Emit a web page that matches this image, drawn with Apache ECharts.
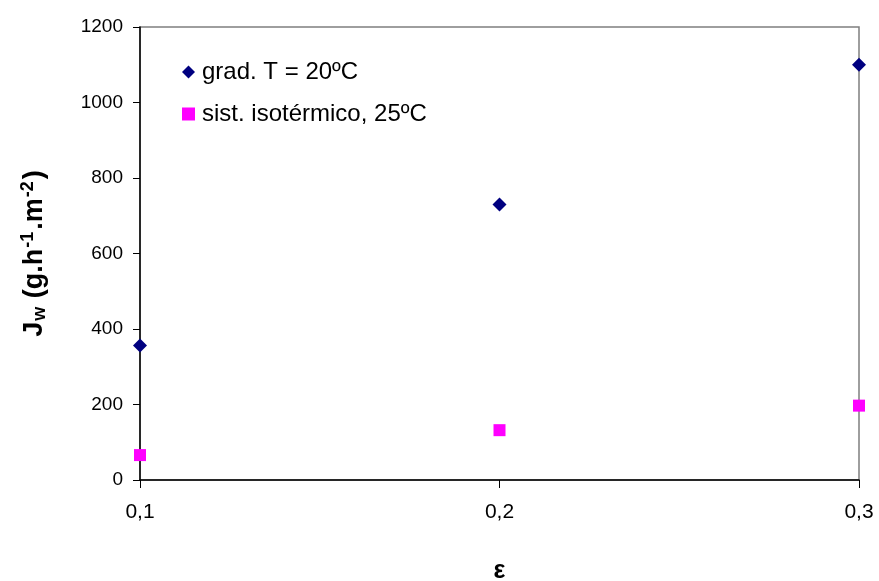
<!DOCTYPE html>
<html>
<head>
<meta charset="utf-8">
<script src="https://cdn.jsdelivr.net/npm/echarts@6/dist/echarts.min.js"></script>
<style>
  html, body { margin: 0; padding: 0; background: #fff; }
  #chart { width: 879px; height: 581px; }
</style>
</head>
<body>
<div id="chart"></div>
<script>
// Porosity values (ε) and water flux J_w for the two operating conditions
const epsilon = [0.1, 0.2, 0.3];
const gradT20 = [356, 730, 1100];
const isotermico25 = [66, 132, 197];
const yTicks = { min: 0, max: 1200, interval: 200 };
const seriesNames = ['grad. T = 20ºC', 'sist. isotérmico, 25ºC'];

const FONT = '"Liberation Sans", Arial, sans-serif';

const pairs = (xs, ys) => xs.map((x, i) => [x, ys[i]]);

const chart = echarts.init(document.getElementById('chart'), null, { renderer: 'canvas' });

chart.setOption({
  animation: false,
  backgroundColor: '#ffffff',
  textStyle: { fontFamily: FONT },
  grid: {
    left: 140, right: 20, top: 27, bottom: 101,
    containLabel: false,
    outerBoundsMode: 'none',
    show: true, borderColor: '#7f7f7f', borderWidth: 1.5, backgroundColor: 'transparent'
  },
  legend: {
    orient: 'vertical',
    left: 177, top: 55,
    itemGap: 18,
    itemWidth: 13, itemHeight: 13,
    textStyle: { fontFamily: FONT, fontSize: 24, color: '#000', padding: [0, 0, 0, 2] },
    data: [
      { name: seriesNames[0], icon: 'diamond', itemStyle: { opacity: 1 } },
      { name: seriesNames[1], icon: 'rect', itemStyle: { opacity: 1 } }
    ]
  },
  xAxis: {
    type: 'value',
    min: 0.1, max: 0.3, interval: 0.1,
    name: 'ε',
    nameLocation: 'middle',
    nameGap: 79,
    nameTextStyle: { fontFamily: FONT, fontSize: 25, fontWeight: 'bold', color: '#000' },
    axisLine: { show: true, lineStyle: { color: '#000', width: 1.5 } },
    axisTick: { show: true, length: 8, lineStyle: { color: '#000', width: 1 } },
    splitLine: { show: false },
    axisLabel: {
      fontFamily: FONT, fontSize: 21, color: '#000', margin: 22,
      formatter: v => (Math.round(v * 10) / 10).toFixed(1).replace('.', ',')
    }
  },
  yAxis: {
    type: 'value',
    min: yTicks.min, max: yTicks.max, interval: yTicks.interval,
    name: '{b|J}{sub|w}{b| (g.h}{sup|-1}{b|.m}{sup|-2}{b|)}',
    nameLocation: 'middle',
    nameRotate: 90,
    nameGap: 87,
    nameTextStyle: {
      fontFamily: FONT, color: '#000',
      rich: {
        b: { fontFamily: FONT, fontSize: 27, fontWeight: 'bold', color: '#000', lineHeight: 36, verticalAlign: 'middle' },
        sub: { fontFamily: FONT, fontSize: 18, fontWeight: 'bold', color: '#000', lineHeight: 36, verticalAlign: 'bottom', padding: [0, 1, 4, 1] },
        sup: { fontFamily: FONT, fontSize: 18, fontWeight: 'bold', color: '#000', lineHeight: 36, verticalAlign: 'top', padding: [2, 2, 0, 1] }
      }
    },
    axisLine: { show: true, lineStyle: { color: '#000', width: 1.5 } },
    axisTick: { show: true, length: 7, lineStyle: { color: '#000', width: 1 } },
    splitLine: { show: false },
    axisLabel: {
      fontFamily: FONT, fontSize: 19, color: '#000', margin: 17,
      formatter: v => String(v)
    }
  },
  series: [
    {
      name: seriesNames[0],
      type: 'scatter',
      symbol: 'diamond',
      symbolSize: 14,
      itemStyle: { color: '#000080', opacity: 1 },
      data: pairs(epsilon, gradT20),
      z: 5
    },
    {
      name: seriesNames[1],
      type: 'scatter',
      symbol: 'rect',
      symbolSize: 12,
      itemStyle: { color: '#ff00ff', opacity: 1 },
      data: pairs(epsilon, isotermico25),
      z: 5
    }
  ]
});
</script>
</body>
</html>
